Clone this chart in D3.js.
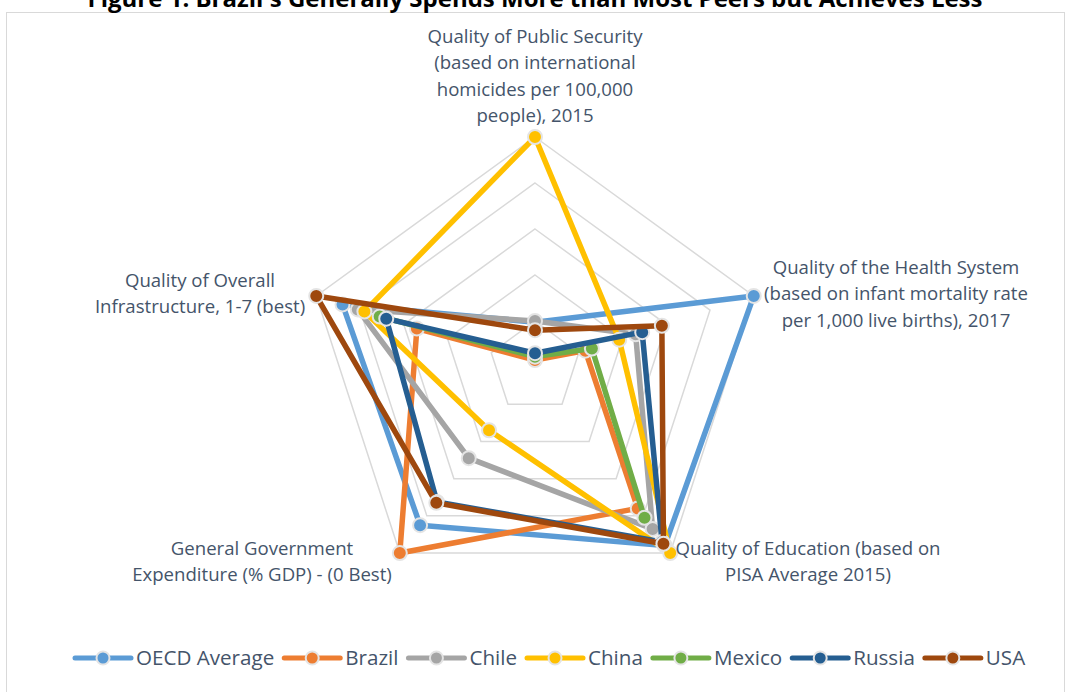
<!DOCTYPE html>
<html>
<head>
<meta charset="utf-8">
<style>
body { margin: 0; background: #fff; }
text { font-family: "Open Sans", sans-serif; }
.axis-label { fill: #44546A; font-size: 18.6px; }
.legend text { fill: #44546A; font-size: 20.6px; }
.title { fill: #000; font-size: 24px; font-weight: bold; }
</style>
<title>radar</title>
<script src="https://cdn.jsdelivr.net/npm/d3@7"></script>
</head>
<body>
<svg width="1070" height="692"></svg>
<script>

// axes, clockwise from the top
var axes = [
  ["Quality of Public Security", "(based on international", "homicides per 100,000", "people), 2015"],
  ["Quality of the Health System", "(based on infant mortality rate", "per 1,000 live births), 2017"],
  ["Quality of Education (based on", "PISA Average 2015)"],
  ["General Government", "Expenditure (% GDP) - (0 Best)"],
  ["Quality of Overall", "Infrastructure, 1-7 (best)"]
];

var seriesNames = ["OECD Average", "Brazil", "Chile", "China", "Mexico", "Russia", "USA"];

// scores 0-100 on each axis (security, health, education, expenditure, infrastructure)
var oecd   = [19.5, 100, 96, 85, 88];
var brazil = [3, 23, 76, 100, 54];
var chile  = [20, 46, 87, 49, 81];
var china  = [100, 38.5, 100, 34, 78];
var mexico = [4.5, 26, 81, null, 71];
var russia = [6, 49, 94, 72.5, 68];
var usa    = [16, 58, 95, 73, 100];

var ringTicks = [20, 40, 60, 80, 100];

var colors = ["#5B9BD5", "#ED7D31", "#A5A5A5", "#FFC000", "#70AD47", "#255E91", "#9E480E"];

var values = [oecd, brazil, chile, china, mexico, russia, usa];

var svg = d3.select("svg"),
    cx = 535, cy = 367, radius = 230;

// chart frame
svg.append("rect")
    .attr("x", 6.5).attr("y", 12.5)
    .attr("width", 1058).attr("height", 700)
    .attr("fill", "none")
    .attr("stroke", "#D9D9D9");

svg.append("text")
    .attr("class", "title")
    .attr("x", cx).attr("y", 7)
    .attr("text-anchor", "middle")
    .text("Figure 1: Brazil's Generally Spends More than Most Peers but Achieves Less");

var r = d3.scaleLinear().domain([0, 100]).range([0, radius]);
var n = axes.length;
var angle = function(i) { return (i % n) * 2 * Math.PI / n; };

var g = svg.append("g")
    .attr("transform", "translate(" + cx + "," + cy + ")");

// grid rings
ringTicks.forEach(function(t) {
  var pts = d3.range(n).map(function(i) {
    return [r(t) * Math.sin(angle(i)), -r(t) * Math.cos(angle(i))];
  });
  g.append("polygon")
      .attr("points", pts.map(function(p) { return p.join(","); }).join(" "))
      .attr("fill", "none")
      .attr("stroke", "#D9D9D9")
      .attr("stroke-width", 1.5);
});

// axis labels
var labelPos = [
  {x: 535, y: 43},
  {x: 896, y: 274},
  {x: 808, y: 555},
  {x: 262, y: 555},
  {x: 200, y: 287}
];
axes.forEach(function(lines, i) {
  var t = svg.append("text")
      .attr("class", "axis-label")
      .attr("text-anchor", "middle")
      .attr("x", labelPos[i].x)
      .attr("y", labelPos[i].y);
  lines.forEach(function(l, k) {
    t.append("tspan")
        .attr("x", labelPos[i].x)
        .attr("dy", k === 0 ? 0 : 26.3)
        .text(l);
  });
});

var line = d3.lineRadial()
    .angle(function(d, i) { return angle(i); })
    .radius(function(d) { return r(d); })
    .defined(function(d) { return d != null; });

values.forEach(function(vals, s) {
  var sg = g.append("g").attr("class", "series");
  sg.append("path")
      .attr("d", line(vals.concat([vals[0]])))
      .attr("fill", "none")
      .attr("stroke", colors[s])
      .attr("stroke-width", 5.5)
      .attr("stroke-linejoin", "round");
  sg.selectAll("circle")
    .data(vals.map(function(v, i) { return {v: v, i: i}; }).filter(function(d) { return d.v != null; }))
    .enter().append("circle")
      .attr("cx", function(d) { return r(d.v) * Math.sin(angle(d.i)); })
      .attr("cy", function(d) { return -r(d.v) * Math.cos(angle(d.i)); })
      .attr("r", 7)
      .attr("fill", colors[s])
      .attr("stroke", "#E4E4E4")
      .attr("stroke-width", 2);
});

// legend
var legend = svg.append("g").attr("class", "legend");
var lx = 75, ly = 658;
seriesNames.forEach(function(name, s) {
  var item = legend.append("g").attr("transform", "translate(" + lx + "," + ly + ")");
  item.append("line")
      .attr("x1", 0).attr("x2", 56)
      .attr("stroke", colors[s])
      .attr("stroke-width", 5)
      .attr("stroke-linecap", "round");
  item.append("circle")
      .attr("cx", 28).attr("r", 6.5)
      .attr("fill", colors[s])
      .attr("stroke", "#E4E4E4")
      .attr("stroke-width", 2);
  var t = item.append("text")
      .attr("x", 61).attr("dy", "0.35em")
      .text(name);
  lx += 61 + t.node().getComputedTextLength() + 10;
});

</script>
</body>
</html>
